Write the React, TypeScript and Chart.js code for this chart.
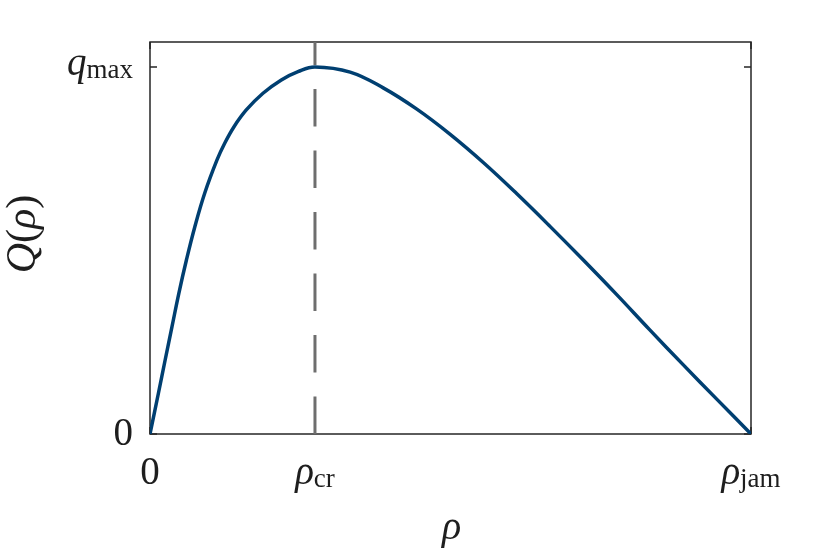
import React, { useEffect, useRef } from 'react';
import { Chart, registerables } from 'chart.js';

Chart.register(...registerables);

// ---- data ----
const RHO_CR = 0.2745;
const Y_TOP = 1.068;

const rho = [0, 0.014, 0.0252, 0.0366, 0.048, 0.0606, 0.0744, 0.091, 0.1115, 0.1243, 0.1398, 0.1602, 0.188, 0.2185, 0.2463, 0.2745, 0.333, 0.388, 0.444, 0.499, 0.555, 0.61, 0.666, 0.721, 0.777, 0.832, 0.887, 0.943, 1];
const flow = [0, 0.111, 0.2016, 0.2924, 0.3834, 0.4741, 0.5635, 0.6559, 0.7466, 0.7921, 0.8373, 0.8828, 0.9283, 0.9646, 0.9872, 1.0, 0.986, 0.943, 0.885, 0.817, 0.739, 0.655, 0.565, 0.474, 0.379, 0.283, 0.189, 0.095, 0];

const xTickValues = [0, RHO_CR, 1];
const xTickMain = ['0', 'ρ', 'ρ'];
const xTickSub = ['', 'cr', 'jam'];

const yTickValues = [0, 1];
const yTickMain = ['0', 'q'];
const yTickSub = ['', 'max'];

const xTitle = 'ρ';
const yTitleParts: [string, boolean][] = [['Q', true], ['(', false], ['ρ', true], [')', false]];

const SERIF = '"Liberation Serif", "Times New Roman", serif';
const CURVE_COLOR = '#003F71';
const DASH_COLOR = '#6E6E6E';
const AXIS_COLOR = '#262626';
const TEXT_COLOR = '#1e1e1e';

function isItalic(s: string) {
  return !/^[0-9]+$/.test(s);
}

function drawLabel(ctx: CanvasRenderingContext2D, main: string, sub: string, x: number, baseline: number, align: 'center' | 'right') {
  const mainFont = (isItalic(main) ? 'italic ' : '') + '39px ' + SERIF;
  const subFont = '27px ' + SERIF;
  ctx.font = mainFont;
  const wMain = ctx.measureText(main).width;
  ctx.font = subFont;
  const wSub = sub ? ctx.measureText(sub).width : 0;
  const total = wMain + wSub;
  const start = align === 'center' ? x - total / 2 : x - total;
  ctx.textAlign = 'left';
  ctx.textBaseline = 'alphabetic';
  ctx.font = mainFont;
  ctx.fillText(main, start, baseline);
  if (sub) {
    ctx.font = subFont;
    ctx.fillText(sub, start + wMain, baseline + 3);
  }
}

const decorPlugin = {
  id: 'decor',
  beforeDatasetsDraw(chart: any) {
    const { ctx, chartArea } = chart;
    const { left, right, top, bottom } = chartArea;
    ctx.save();
    ctx.strokeStyle = AXIS_COLOR;
    ctx.lineWidth = 1.5;
    ctx.strokeRect(left, top, right - left, bottom - top);
    const xs = chart.scales.x;
    const ys = chart.scales.y;
    ctx.beginPath();
    xs.ticks.forEach((t: any) => {
      const px = xs.getPixelForValue(t.value);
      ctx.moveTo(px, bottom);
      ctx.lineTo(px, bottom - 7);
      ctx.moveTo(px, top);
      ctx.lineTo(px, top + 7);
    });
    ys.ticks.forEach((t: any) => {
      const py = ys.getPixelForValue(t.value);
      ctx.moveTo(left, py);
      ctx.lineTo(left + 7, py);
      ctx.moveTo(right, py);
      ctx.lineTo(right - 7, py);
    });
    ctx.stroke();
    ctx.restore();
  },
  afterDraw(chart: any) {
    const { ctx, chartArea } = chart;
    const { left, right, top, bottom } = chartArea;
    const xs = chart.scales.x;
    const ys = chart.scales.y;
    ctx.save();
    ctx.fillStyle = TEXT_COLOR;
    xs.ticks.forEach((t: any, i: number) => {
      const px = xs.getPixelForValue(t.value);
      drawLabel(ctx, xTickMain[i], xTickSub[i], px, bottom + 50, 'center');
    });
    ys.ticks.forEach((t: any, i: number) => {
      const py = ys.getPixelForValue(t.value);
      drawLabel(ctx, yTickMain[i], yTickSub[i], left - 17, py + (yTickSub[i] ? 8 : 11), 'right');
    });
    ctx.font = 'italic 40px ' + SERIF;
    ctx.textAlign = 'center';
    ctx.textBaseline = 'alphabetic';
    ctx.fillText(xTitle, (left + right) / 2 + 1, bottom + 105);
    ctx.save();
    ctx.translate(35, (top + bottom) / 2 - 4);
    ctx.rotate(-Math.PI / 2);
    ctx.textAlign = 'left';
    let total = 0;
    const widths = yTitleParts.map(([s, it]) => {
      ctx.font = (it ? 'italic ' : '') + '42px ' + SERIF;
      const w = ctx.measureText(s).width;
      total += w;
      return w;
    });
    let cx = -total / 2;
    yTitleParts.forEach(([s, it], i) => {
      ctx.font = (it ? 'italic ' : '') + '42px ' + SERIF;
      ctx.fillText(s, cx, 0);
      cx += widths[i];
    });
    ctx.restore();
    ctx.restore();
  },
};

export default function App() {
  const ref = useRef<HTMLCanvasElement | null>(null);
  useEffect(() => {
    if (!ref.current) return;
    const chart = new Chart(ref.current, {
      type: 'line',
      data: {
        datasets: [
          {
            data: rho.map((r, i) => ({ x: r, y: flow[i] })),
            borderColor: CURVE_COLOR,
            borderWidth: 3.5,
            pointRadius: 0,
            fill: false,
            tension: 0.4,
            order: 0,
          },
          {
            data: [
              { x: RHO_CR, y: 0 },
              { x: RHO_CR, y: Y_TOP },
            ],
            borderColor: DASH_COLOR,
            borderWidth: 3,
            borderDash: [37.5, 24],
            borderCapStyle: 'butt',
            pointRadius: 0,
            fill: false,
            order: 1,
          },
        ],
      },
      options: {
        responsive: false,
        devicePixelRatio: 1,
        animation: false,
        layout: { padding: { left: 150, right: 79, top: 42, bottom: 120 } },
        plugins: { legend: { display: false }, tooltip: { enabled: false } },
        scales: {
          x: {
            type: 'linear',
            min: 0,
            max: 1,
            grid: { display: false },
            border: { display: false },
            ticks: { display: false },
            afterBuildTicks: (s: any) => {
              s.ticks = xTickValues.map((v) => ({ value: v }));
            },
            afterFit: (s: any) => {
              s.height = 0;
            },
          },
          y: {
            type: 'linear',
            min: 0,
            max: Y_TOP,
            grid: { display: false },
            border: { display: false },
            ticks: { display: false },
            afterBuildTicks: (s: any) => {
              s.ticks = yTickValues.map((v) => ({ value: v }));
            },
            afterFit: (s: any) => {
              s.width = 0;
            },
          },
        },
      } as any,
      plugins: [decorPlugin],
    });
    return () => chart.destroy();
  }, []);
  return (
    <div style={{ position: 'fixed', left: 0, top: 0, width: 830, height: 554, background: '#fff' }}>
      <canvas ref={ref} width={830} height={554} style={{ display: 'block', width: 830, height: 554 }} />
    </div>
  );
}
